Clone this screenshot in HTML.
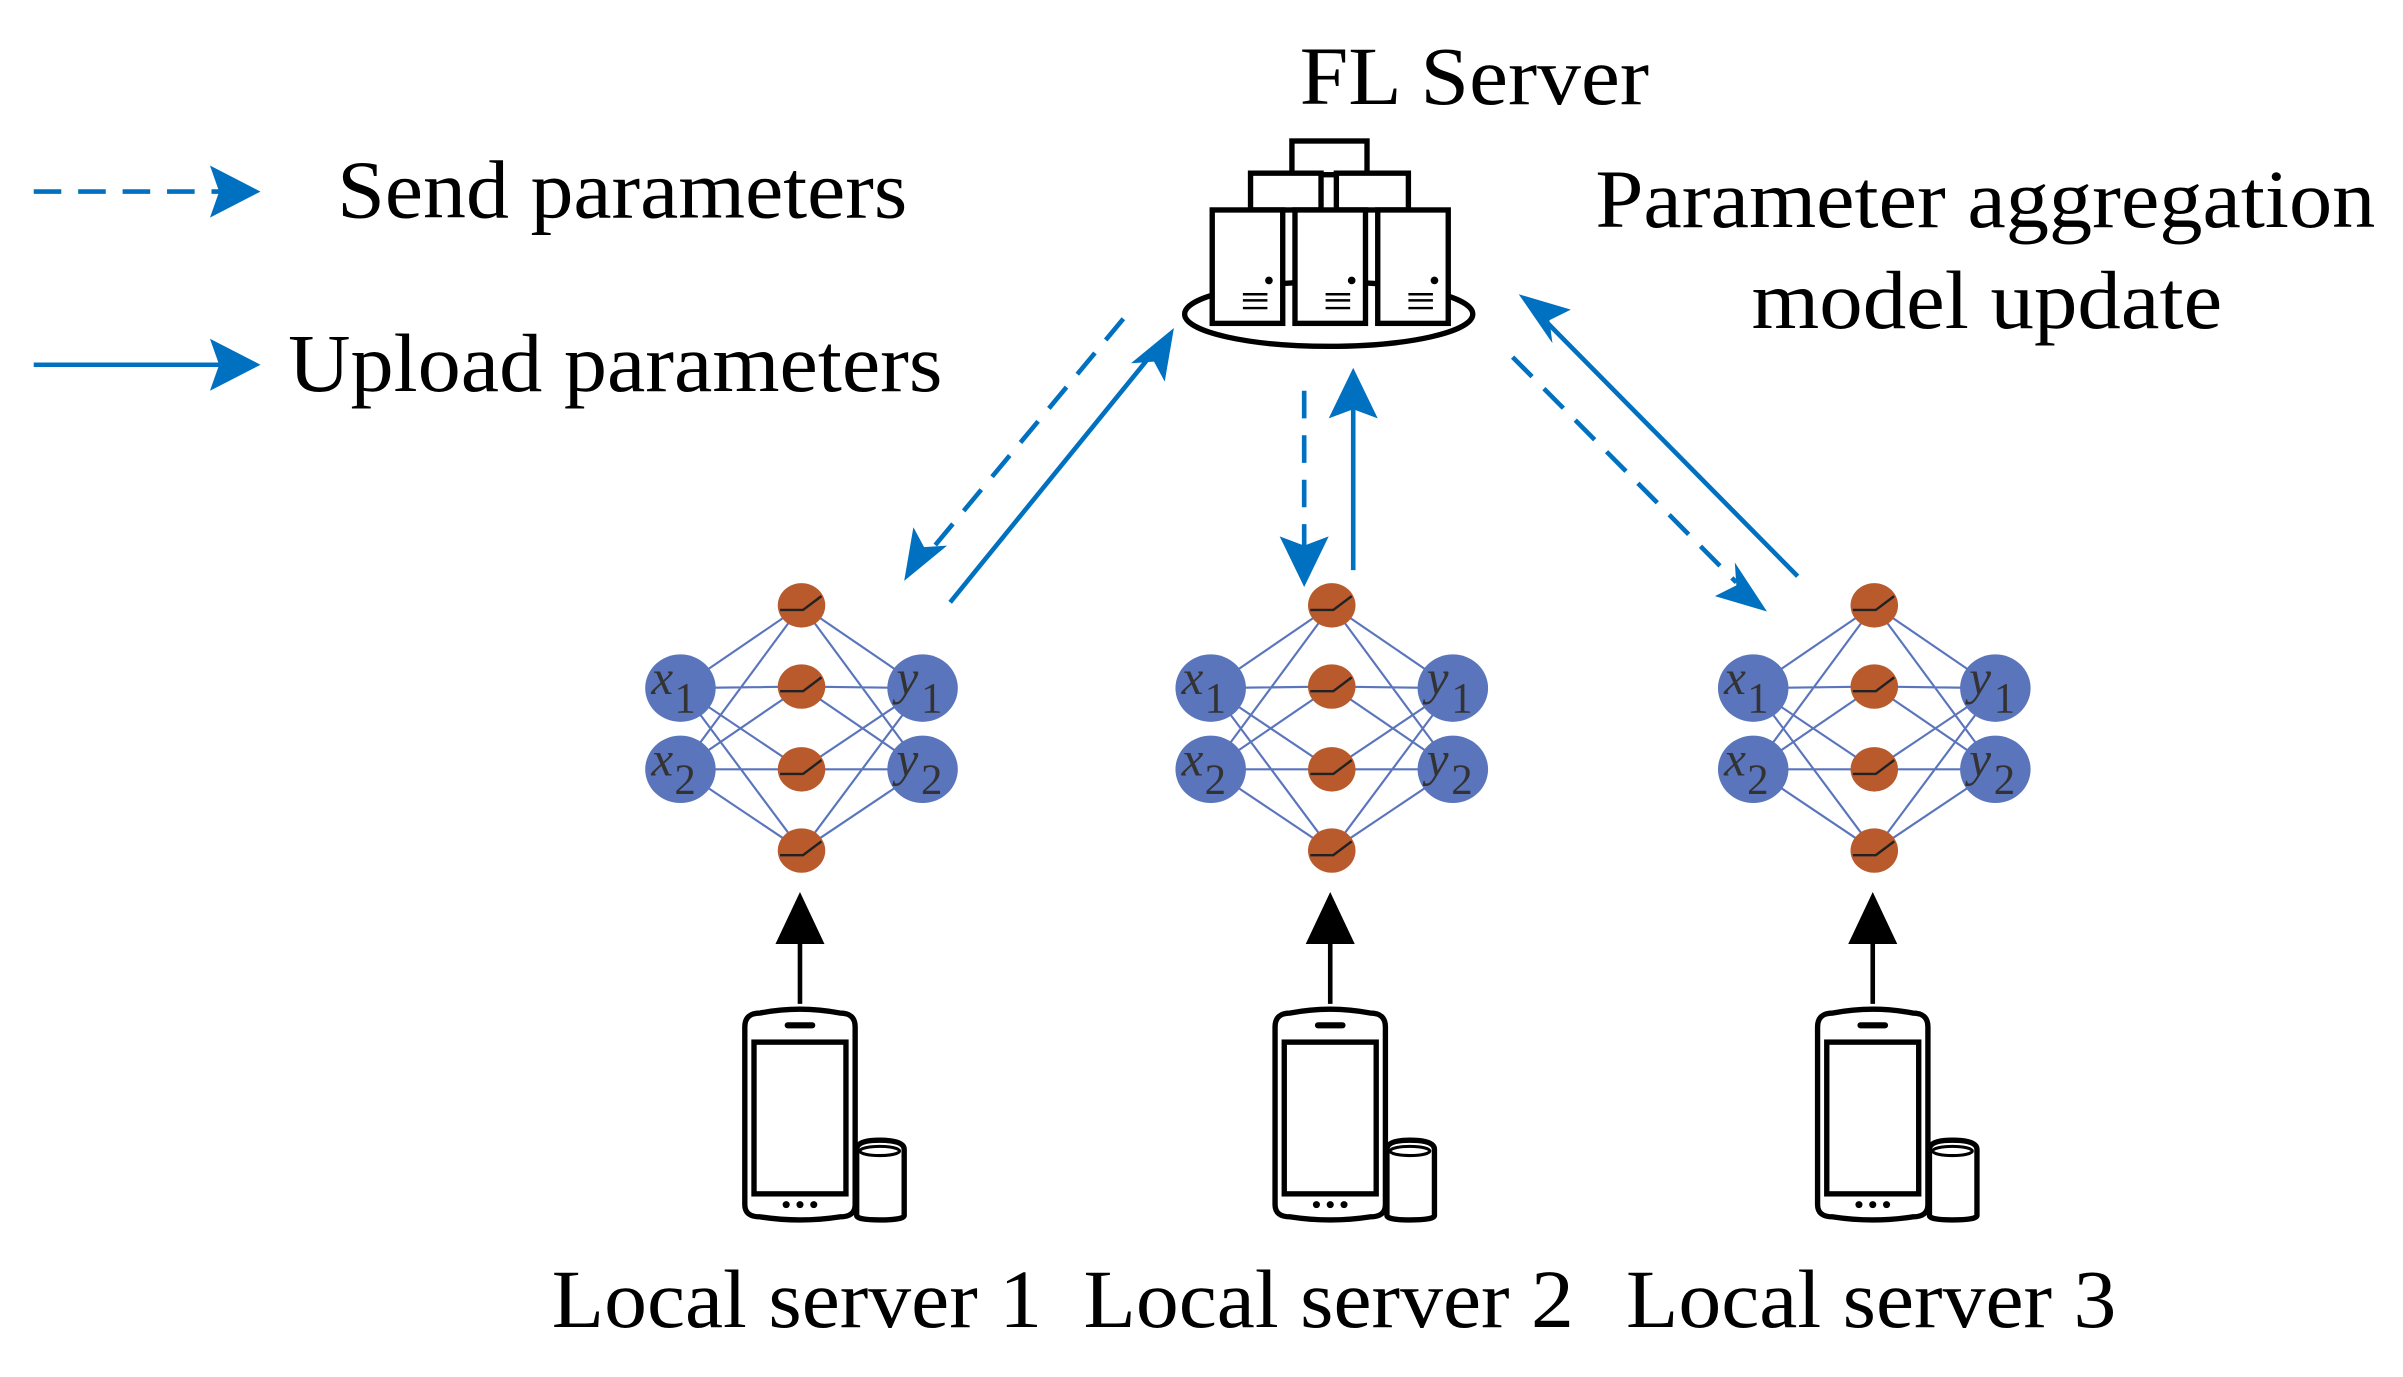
<!DOCTYPE html>
<html><head><style>html,body{margin:0;padding:0;background:#fff}svg{display:block}</style></head>
<body>
<svg width="2403" height="1377" viewBox="0 0 1568 898.5" preserveAspectRatio="none" xmlns="http://www.w3.org/2000/svg" font-family="'Liberation Serif', serif">
<defs>
<g id="net" font-family="'Liberation Serif', serif">
<g stroke="#5b75bd" stroke-width="1.4">
<path d="M-79,449 L0,395 M-79,449 L0,448 M-79,449 L0,502 M-79,449 L0,555 M-79,502 L0,395 M-79,502 L0,448 M-79,502 L0,502 M-79,502 L0,555 M79,449 L0,395 M79,449 L0,448 M79,449 L0,502 M79,449 L0,555 M79,502 L0,395 M79,502 L0,448 M79,502 L0,502 M79,502 L0,555"/>
</g>
<g fill="#5b75bd"><ellipse cx="-79" cy="449" rx="23" ry="22"/><ellipse cx="-79" cy="502" rx="23" ry="22"/><ellipse cx="79" cy="449" rx="23" ry="22"/><ellipse cx="79" cy="502" rx="23" ry="22"/></g>
<g fill="#b85a2c"><ellipse cx="0" cy="395" rx="15.5" ry="14.5"/><ellipse cx="0" cy="448" rx="15.5" ry="14.5"/><ellipse cx="0" cy="502" rx="15.5" ry="14.5"/><ellipse cx="0" cy="555" rx="15.5" ry="14.5"/></g>
<g stroke="#222" stroke-width="1.6" fill="none"><path d="M-14,398 L1,398 L13,389"/><path d="M-14,451 L1,451 L13,442"/><path d="M-14,505 L1,505 L13,496"/><path d="M-14,558 L1,558 L13,549"/></g>
<g font-style="italic" font-size="32" fill="#333" font-family="'Liberation Serif', serif">
<text x="-98" y="453">x</text><text x="-83" y="465" font-style="normal" font-size="28">1</text>
<text x="-98" y="506">x</text><text x="-83" y="518" font-style="normal" font-size="28">2</text>
<text x="62" y="453">y</text><text x="78" y="465" font-style="normal" font-size="28">1</text>
<text x="62" y="506">y</text><text x="78" y="518" font-style="normal" font-size="28">2</text>
</g>
<path d="M-1,655 L-1,612" stroke="#000" stroke-width="3"/>
<path d="M-1,582 L-17,616 L15,616 Z" fill="#000"/>
<g fill="none" stroke="#000" stroke-width="3.5">
<path d="M-37,670 Q-37,661 -27,661 Q-1,656 25,661 Q35,661 35,670 L35,786 Q35,794 25,794 Q-1,798 -27,794 Q-37,794 -37,786 Z"/>
<rect x="-31" y="680" width="60" height="99"/>
<line x1="-9" y1="669" x2="7" y2="669" stroke-width="4" stroke-linecap="round"/>
<path d="M36,750 Q36,744 51,744 Q67,744 67,750 L67,793 Q67,796 51,796 Q36,796 36,793 Z"/>
<ellipse cx="51" cy="751" rx="13" ry="3" stroke-width="2"/>
</g>
<g fill="#000"><circle cx="-10" cy="786" r="2.3"/><circle cx="-1" cy="786" r="2.3"/><circle cx="8" cy="786" r="2.3"/></g>
</g>
<g id="cab">
<rect x="0" y="0" width="46" height="74" fill="#fff" stroke="#000" stroke-width="3.5"/>
<circle cx="37" cy="46" r="2.5" fill="#000"/>
<path d="M20,55 H36 M20,59 H36 M20,64 H36" stroke="#000" stroke-width="1.6"/>
</g>
</defs>

<!-- legend -->
<line x1="22" y1="125" x2="145" y2="125" stroke="#0070c0" stroke-width="3" stroke-dasharray="18,11"/>
<path d="M170,125 L137,108 L143,125 L137,142 Z" fill="#0070c0"/>
<line x1="22" y1="238" x2="150" y2="238" stroke="#0070c0" stroke-width="3"/>
<path d="M170,238 L137,221 L143,238 L137,255 Z" fill="#0070c0"/>
<text x="220" y="142" font-size="54" textLength="372" lengthAdjust="spacingAndGlyphs">Send parameters</text>
<text x="188" y="255" font-size="54" textLength="427" lengthAdjust="spacingAndGlyphs">Upload parameters</text>
<text x="848" y="68" font-size="54" textLength="228" lengthAdjust="spacingAndGlyphs">FL Server</text>
<text x="1041" y="148" font-size="54" textLength="509" lengthAdjust="spacingAndGlyphs">Parameter aggregation</text>
<text x="1143" y="214" font-size="54" textLength="307" lengthAdjust="spacingAndGlyphs">model update</text>

<!-- server -->
<ellipse cx="867" cy="205" rx="94" ry="21" fill="#fff" stroke="#000" stroke-width="3.5"/>
<rect x="843" y="92" width="49" height="22" fill="#fff" stroke="#000" stroke-width="3.5"/>
<rect x="816" y="113" width="46" height="24" fill="#fff" stroke="#000" stroke-width="3.5"/>
<rect x="872" y="113" width="47" height="24" fill="#fff" stroke="#000" stroke-width="3.5"/>
<use href="#cab" x="791" y="137"/>
<use href="#cab" x="845" y="137"/>
<use href="#cab" x="899" y="137"/>

<!-- blue arrows -->
<g stroke="#0070c0" stroke-width="3" fill="none">
<line x1="733" y1="208" x2="605" y2="362" stroke-dasharray="18,11"/>
<line x1="620" y1="393" x2="750" y2="233"/>
<line x1="851" y1="255" x2="851" y2="358" stroke-dasharray="18,11"/>
<line x1="883" y1="372" x2="883" y2="262"/>
<line x1="987" y1="233" x2="1133" y2="380" stroke-dasharray="18,11"/>
<line x1="1173" y1="376" x2="1010" y2="211"/>
</g>
<g fill="#0070c0">
<path d="M590,379 L596,344 L603,357 L618,356 Z"/>
<path d="M766,214 L760,249 L753,236 L738,237 Z"/>
<path d="M851,383 L835,350 L851,356 L867,350 Z"/>
<path d="M883,240 L867,273 L883,267 L899,273 Z"/>
<path d="M1153,399 L1119,389 L1133,382 L1132,367 Z"/>
<path d="M991,192 L1025,202 L1011,209 L1013,224 Z"/>
</g>

<use href="#net" x="523" y="0"/>
<use href="#net" x="869" y="0"/>
<use href="#net" x="1223" y="0"/>

<text x="360" y="866" font-size="54" textLength="320" lengthAdjust="spacingAndGlyphs">Local server 1</text>
<text x="707" y="866" font-size="54" textLength="320" lengthAdjust="spacingAndGlyphs">Local server 2</text>
<text x="1061" y="866" font-size="54" textLength="320" lengthAdjust="spacingAndGlyphs">Local server 3</text>
</svg>
</body></html>
